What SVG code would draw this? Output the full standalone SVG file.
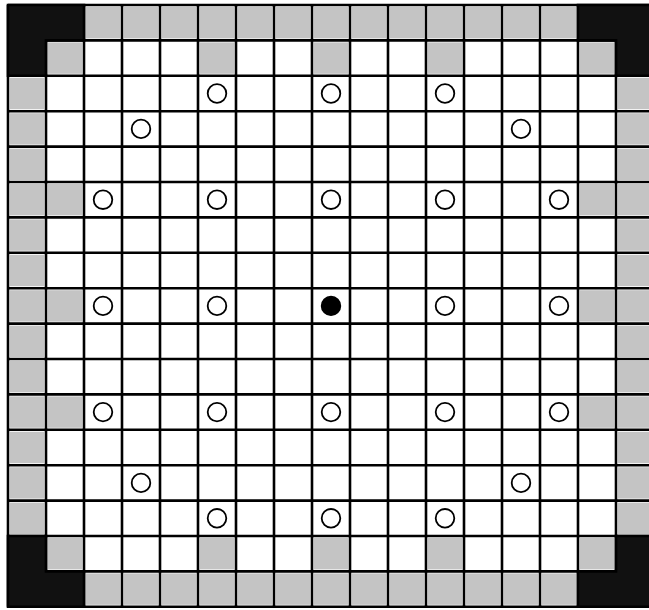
<svg xmlns="http://www.w3.org/2000/svg" xmlns:xlink="http://www.w3.org/1999/xlink" width="649" height="610" viewBox="0 0 649 610">
<style>
.g{fill:#c4c4c4}
.k{fill:#111;stroke:#000;stroke-width:2.6}
.grid{stroke:#000;stroke-width:2.6;fill:none}
.rod{fill:#fff;stroke:#000;stroke-width:1.8}
.rodf{fill:#000;stroke:#000;stroke-width:1.8}
</style>
<defs>
<rect id="gc" width="34" height="31.4" class="g"/>
</defs>
<rect width="649" height="610" fill="#fff"/>
<g id="gray-cells">
<use href="#gc" x="86" y="7"/><use href="#gc" x="124" y="7"/><use href="#gc" x="162" y="7"/><use href="#gc" x="200" y="7"/><use href="#gc" x="238" y="7"/><use href="#gc" x="276" y="7"/><use href="#gc" x="314" y="7"/><use href="#gc" x="352" y="7"/><use href="#gc" x="390" y="7"/><use href="#gc" x="428" y="7"/><use href="#gc" x="466" y="7"/><use href="#gc" x="504" y="7"/><use href="#gc" x="542" y="7"/>
<use href="#gc" x="86" y="573.4"/><use href="#gc" x="124" y="573.4"/><use href="#gc" x="162" y="573.4"/><use href="#gc" x="200" y="573.4"/><use href="#gc" x="238" y="573.4"/><use href="#gc" x="276" y="573.4"/><use href="#gc" x="314" y="573.4"/><use href="#gc" x="352" y="573.4"/><use href="#gc" x="390" y="573.4"/><use href="#gc" x="428" y="573.4"/><use href="#gc" x="466" y="573.4"/><use href="#gc" x="504" y="573.4"/><use href="#gc" x="542" y="573.4"/>
<use href="#gc" x="10" y="77.8"/><use href="#gc" x="10" y="113.2"/><use href="#gc" x="10" y="148.6"/><use href="#gc" x="10" y="184"/><use href="#gc" x="10" y="219.4"/><use href="#gc" x="10" y="254.8"/><use href="#gc" x="10" y="290.2"/><use href="#gc" x="10" y="325.6"/><use href="#gc" x="10" y="361"/><use href="#gc" x="10" y="396.4"/><use href="#gc" x="10" y="431.8"/><use href="#gc" x="10" y="467.2"/><use href="#gc" x="10" y="502.6"/>
<use href="#gc" x="618" y="77.8"/><use href="#gc" x="618" y="113.2"/><use href="#gc" x="618" y="148.6"/><use href="#gc" x="618" y="184"/><use href="#gc" x="618" y="219.4"/><use href="#gc" x="618" y="254.8"/><use href="#gc" x="618" y="290.2"/><use href="#gc" x="618" y="325.6"/><use href="#gc" x="618" y="361"/><use href="#gc" x="618" y="396.4"/><use href="#gc" x="618" y="431.8"/><use href="#gc" x="618" y="467.2"/><use href="#gc" x="618" y="502.6"/>
<use href="#gc" x="48" y="42.4"/><use href="#gc" x="200" y="42.4"/><use href="#gc" x="314" y="42.4"/><use href="#gc" x="428" y="42.4"/><use href="#gc" x="580" y="42.4"/>
<use href="#gc" x="48" y="538"/><use href="#gc" x="200" y="538"/><use href="#gc" x="314" y="538"/><use href="#gc" x="428" y="538"/><use href="#gc" x="580" y="538"/>
<use href="#gc" x="48" y="184"/><use href="#gc" x="580" y="184"/>
<use href="#gc" x="48" y="290.2"/><use href="#gc" x="580" y="290.2"/>
<use href="#gc" x="48" y="396.4"/><use href="#gc" x="580" y="396.4"/>
</g>
<g id="grid">
<path class="grid" d="M8 5V606.8M46 5V606.8M84 5V606.8M122 5V606.8M160 5V606.8M198 5V606.8M236 5V606.8M274 5V606.8M312 5V606.8M350 5V606.8M388 5V606.8M426 5V606.8M464 5V606.8M502 5V606.8M540 5V606.8M578 5V606.8M616 5V606.8
M8 5H654M8 40.4H654M8 75.8H654M8 111.2H654M8 146.6H654M8 182H654M8 217.4H654M8 252.8H654M8 288.2H654M8 323.6H654M8 359H654M8 394.4H654M8 429.8H654M8 465.2H654M8 500.6H654M8 536H654M8 571.4H654M8 606.8H654"/>
</g>
<g id="corners">
<path class="k" d="M8 5H84V40.4H46V75.8H8Z"/>
<path class="k" d="M578 5H654V75.8H616V40.4H578Z"/>
<path class="k" d="M8 606.8H84V571.4H46V536H8Z"/>
<path class="k" d="M578 606.8H654V536H616V571.4H578Z"/>
</g>
<g id="rods">
<circle class="rod" cx="217" cy="93.5" r="9.3"/><circle class="rod" cx="331" cy="93.5" r="9.3"/><circle class="rod" cx="445" cy="93.5" r="9.3"/>
<circle class="rod" cx="141" cy="128.9" r="9.3"/><circle class="rod" cx="521" cy="128.9" r="9.3"/>
<circle class="rod" cx="103" cy="199.7" r="9.3"/><circle class="rod" cx="217" cy="199.7" r="9.3"/><circle class="rod" cx="331" cy="199.7" r="9.3"/><circle class="rod" cx="445" cy="199.7" r="9.3"/><circle class="rod" cx="559" cy="199.7" r="9.3"/>
<circle class="rod" cx="103" cy="305.9" r="9.3"/><circle class="rod" cx="217" cy="305.9" r="9.3"/><circle class="rodf" cx="331" cy="305.9" r="9.3"/><circle class="rod" cx="445" cy="305.9" r="9.3"/><circle class="rod" cx="559" cy="305.9" r="9.3"/>
<circle class="rod" cx="103" cy="412.1" r="9.3"/><circle class="rod" cx="217" cy="412.1" r="9.3"/><circle class="rod" cx="331" cy="412.1" r="9.3"/><circle class="rod" cx="445" cy="412.1" r="9.3"/><circle class="rod" cx="559" cy="412.1" r="9.3"/>
<circle class="rod" cx="141" cy="482.9" r="9.3"/><circle class="rod" cx="521" cy="482.9" r="9.3"/>
<circle class="rod" cx="217" cy="518.3" r="9.3"/><circle class="rod" cx="331" cy="518.3" r="9.3"/><circle class="rod" cx="445" cy="518.3" r="9.3"/>
</g>
</svg>
